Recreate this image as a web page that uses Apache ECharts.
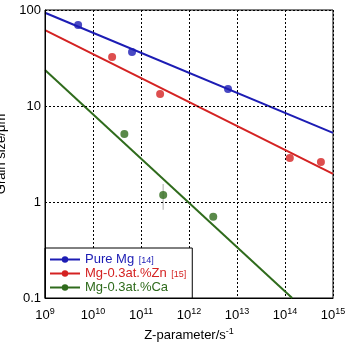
<!DOCTYPE html>
<html><head><meta charset="utf-8">
<script src="https://cdn.jsdelivr.net/npm/echarts@6/dist/echarts.min.js"></script>
<style>html,body{margin:0;padding:0;background:#fff}#c{width:350px;height:342px}</style>
</head><body><div id="c"></div>
<script>
var seriesNames = ['Pure Mg', 'Mg-0.3at.%Zn', 'Mg-0.3at.%Ca'];
var refs = ['[14]', '[15]', ''];
var colors = ['#1c1cb4', '#d42222', '#2f6b1c'];
var pureMgPoints = [[4.9e9, 69.8], [6.5e10, 36.5], [6.5e12, 15.0]];
var znPoints = [[2.5e10, 32.4], [2.5e11, 13.3], [1.26e14, 2.87], [5.6e14, 2.61]];
var caPoints = [[4.5e10, 5.1], [2.9e11, 1.18], [3.2e12, 0.70]];
var pureMgFit = [[1e9, 93.7], [1e15, 5.24]];
var znFit = [[1e9, 61.7], [1e15, 1.96]];
var caFit = [[1e9, 23.7], [1.41e14, 0.1]];
var caErrorBars = [[2.9e11, 0.83, 1.54]];
var yTickLabels = {'-1': '0.1', '0': '1', '1': '10', '2': '100'};
var xMin = 1e9, xMax = 1e15;
var yMin = 0.1, yMax = 100;

var chart = echarts.init(document.getElementById('c'));
var fits = [pureMgFit, znFit, caFit];
var pts = [pureMgPoints, znPoints, caPoints];
var series = [];
caErrorBars.forEach(function (e, i) {
  series.push({type: 'line', name: 'err' + i, data: [[e[0], e[1]], [e[0], e[2]]],
    showSymbol: false, symbol: 'none', lineStyle: {color: '#c8c8c8', width: 1.5}, silent: true, z: 1});
});
seriesNames.forEach(function (n, i) {
  series.push({type: 'line', name: n, data: fits[i], symbol: 'circle', symbolSize: 8, showSymbol: false,
    itemStyle: {color: colors[i]}, lineStyle: {color: colors[i], width: 2}, z: 2});
  series.push({type: 'scatter', name: n + ' pts', data: pts[i], symbol: 'circle', symbolSize: 8,
    itemStyle: {color: colors[i]}, z: 3});
});
function expOf(v, fallback) {
  var e = Math.round(Math.log10(v));
  return isFinite(e) ? e : fallback;
}
var fontF = 'Liberation Sans, Arial, sans-serif';
chart.setOption({
  animation: false,
  grid: {left: 45, right: 17, top: 10, bottom: 44, show: true, borderColor: '#000', borderWidth: 1, outerBoundsMode: 'none'},
  xAxis: {type: 'log', logBase: 10, min: xMin, max: xMax,
    name: '{b|Z-parameter/s}{s|-1}', nameLocation: 'middle', nameGap: 16,
    nameTextStyle: {rich: {b: {fontSize: 13, color: '#000', fontFamily: fontF}, s: {fontSize: 9, color: '#000', fontFamily: fontF, padding: [0, 0, 8, 0]}}},
    axisLine: {show: true, lineStyle: {color: '#000'}}, axisTick: {show: false},
    splitLine: {show: true, lineStyle: {color: '#000', type: [2, 2], width: 1}},
    axisLabel: {margin: 9, alignMinLabel: 'center', alignMaxLabel: 'center',
      formatter: function (v) { return '{b|10}{s|' + expOf(v, 9) + '}'; },
      rich: {b: {fontSize: 13, color: '#000', fontFamily: fontF}, s: {fontSize: 9, color: '#000', fontFamily: fontF, padding: [0, 0, 8, 0]}}}},
  yAxis: {type: 'log', logBase: 10, min: yMin, max: yMax, z: 20,
    name: 'Grain size/μm', nameLocation: 'middle', nameGap: 15,
    nameTextStyle: {fontSize: 13, color: '#000', fontFamily: fontF},
    axisLine: {show: true, lineStyle: {color: '#000'}}, axisTick: {show: false},
    splitLine: {show: true, lineStyle: {color: '#000', type: [2, 2], width: 1}},
    axisLabel: {margin: 4, fontSize: 13, color: '#000', fontFamily: fontF, align: 'right',
      formatter: function (v) { var e = (v > 0) ? expOf(v, -1) : -1; return yTickLabels[String(e)] || '0.1'; }}},
  legend: {orient: 'vertical', left: 45, bottom: 44, z: 3, itemWidth: 30, itemHeight: 8, itemGap: 1,
    padding: [5, 6, 4, 4], backgroundColor: '#fff', borderColor: '#000', borderWidth: 1, borderRadius: 0,
    data: seriesNames.map(function (n, i) {
      return {name: n, textStyle: {color: colors[i], fontSize: 13, fontFamily: fontF,
        rich: {r: {fontSize: 9, color: colors[i], fontFamily: fontF, padding: [2, 0, 0, 1]}}}};
    }),
    formatter: function (n) { var i = seriesNames.indexOf(n); return refs[i] ? n + ' {r|' + refs[i] + '}' : n; }},
  series: series
});
</script></body></html>
